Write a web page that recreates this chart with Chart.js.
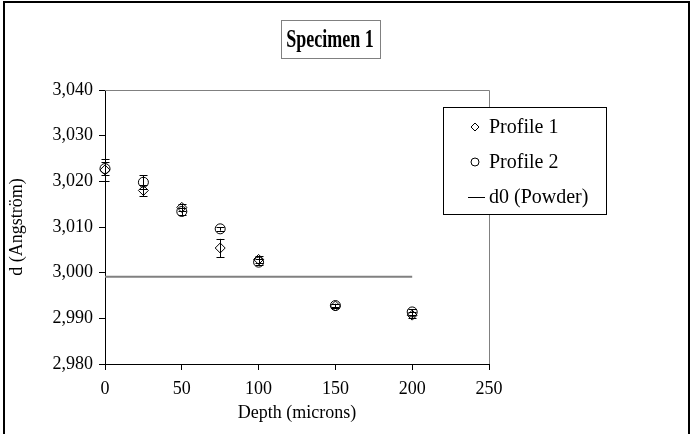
<!DOCTYPE html>
<html>
<head>
<meta charset="utf-8">
<script src="https://cdn.jsdelivr.net/npm/chart.js@4/dist/chart.umd.min.js"></script>
<style>
  html, body { margin: 0; padding: 0; background: #fff; }
  #wrap { width: 693px; height: 434px; }
</style>
</head>
<body>
<div id="wrap"><canvas id="chart" width="693" height="434"></canvas></div>
<script>
const depths = [0, 25, 50, 75, 100, 150, 200];
const profile1 = [3.0225, 3.0180, 3.0143, 3.0054, 3.0029, 2.9927, 2.9907];
const profile1Err = [0.0025, 0.0012, 0.0008, 0.0020, 0.0008, 0.0004, 0.0006];
const profile2 = [3.0228, 3.0198, 3.0134, 3.0096, 3.0023, 2.9928, 2.9914];
const profile2Err = [0.0015, 0.0015, 0.0008, 0.0004, 0.0006, 0.0004, 0.0006];
const powderDepths = [0, 200];
const powderD = [2.9991, 2.9991];
const seriesLabels = ["Profile 1", "Profile 2", "d0 (Powder)"];
const titleText = "Specimen 1";

const serif = "'Liberation Serif', 'Times New Roman', serif";

function toPoints(xs, ys) {
  return xs.map((x, i) => ({ x: x, y: ys[i] }));
}

// outer frame, plot frame, title box, legend box
const decorations = {
  id: "decorations",
  beforeDraw(chart) {
    const ctx = chart.ctx;
    ctx.save();
    ctx.fillStyle = "#fff";
    ctx.fillRect(0, 0, chart.width, chart.height);
    ctx.strokeStyle = "#000";
    ctx.lineWidth = 2;
    ctx.beginPath();
    ctx.moveTo(4, 434);
    ctx.lineTo(4, 2);
    ctx.lineTo(689, 2);
    ctx.lineTo(689, 434);
    ctx.stroke();
    ctx.restore();
  },
  beforeDatasetsDraw(chart) {
    const ctx = chart.ctx;
    const a = chart.chartArea;
    ctx.save();
    ctx.strokeStyle = "#808080";
    ctx.lineWidth = 1;
    ctx.beginPath();
    ctx.moveTo(a.left, a.top + 0.5);
    ctx.lineTo(a.right + 0.5, a.top + 0.5);
    ctx.lineTo(a.right + 0.5, a.bottom);
    ctx.stroke();
    ctx.restore();
  },
  afterDraw(chart) {
    const ctx = chart.ctx;
    ctx.save();
    // title box
    const cx = 330;
    ctx.font = "bold 18px " + serif;
    const tw = ctx.measureText(titleText).width;
    const bw = Math.round(tw + 12);
    const bx = Math.round(cx - bw / 2);
    ctx.fillStyle = "#fff";
    ctx.fillRect(bx, 20, bw, 38);
    ctx.strokeStyle = "#808080";
    ctx.lineWidth = 1;
    ctx.strokeRect(bx + 0.5, 20.5, bw, 38);
    ctx.fillStyle = "#000";
    ctx.textAlign = "center";
    ctx.textBaseline = "middle";
    ctx.save();
    ctx.translate(cx, 40);
    ctx.scale(1, 1.4);
    ctx.fillText(titleText, 0, 0);
    ctx.restore();

    // legend box
    const lx = 443, ly = 107, lw = 163, lh = 107;
    ctx.fillStyle = "#fff";
    ctx.fillRect(lx, ly, lw, lh);
    ctx.strokeStyle = "#000";
    ctx.lineWidth = 1;
    ctx.strokeRect(lx + 0.5, ly + 0.5, lw, lh);
    ctx.font = "20px " + serif;
    ctx.textAlign = "left";
    ctx.fillStyle = "#000";
    const rows = [127, 162, 197];
    const mx = 475, tx = 489;
    ctx.beginPath();
    ctx.moveTo(mx, rows[0] - 4);
    ctx.lineTo(mx + 4, rows[0]);
    ctx.lineTo(mx, rows[0] + 4);
    ctx.lineTo(mx - 4, rows[0]);
    ctx.closePath();
    ctx.stroke();
    ctx.beginPath();
    ctx.arc(mx, rows[1], 4, 0, Math.PI * 2);
    ctx.stroke();
    ctx.beginPath();
    ctx.moveTo(468, rows[2] + 0.5);
    ctx.lineTo(485, rows[2] + 0.5);
    ctx.stroke();
    rows.forEach((ry, i) => ctx.fillText(seriesLabels[i], tx, ry + 1));
    ctx.restore();
  }
};

// vertical error bars from the value arrays
const errorBars = {
  id: "errorBars",
  afterDatasetsDraw(chart) {
    const ctx = chart.ctx;
    const xs = chart.scales.x, ys = chart.scales.y;
    const sets = [[profile1, profile1Err], [profile2, profile2Err]];
    ctx.save();
    ctx.strokeStyle = "#000";
    ctx.lineWidth = 1;
    sets.forEach(([vals, errs]) => {
      vals.forEach((v, i) => {
        const px = Math.round(xs.getPixelForValue(depths[i])) + 0.5;
        const top = ys.getPixelForValue(v + errs[i]);
        const bot = ys.getPixelForValue(v - errs[i]);
        ctx.beginPath();
        ctx.moveTo(px, top);
        ctx.lineTo(px, bot);
        ctx.moveTo(px - 4, Math.round(top) + 0.5);
        ctx.lineTo(px + 4, Math.round(top) + 0.5);
        ctx.moveTo(px - 4, Math.round(bot) + 0.5);
        ctx.lineTo(px + 4, Math.round(bot) + 0.5);
        ctx.stroke();
      });
    });
    ctx.restore();
  }
};

new Chart(document.getElementById("chart"), {
  type: "scatter",
  data: {
    datasets: [
      {
        label: seriesLabels[2],
        data: toPoints(powderDepths, powderD),
        showLine: true,
        borderColor: "#808080",
        borderWidth: 2,
        pointRadius: 0,
        order: 3
      },
      {
        label: seriesLabels[0],
        data: toPoints(depths, profile1),
        pointStyle: "rectRot",
        pointRadius: 5,
        backgroundColor: "#fff",
        borderColor: "#000",
        borderWidth: 1,
        clip: false,
        order: 2
      },
      {
        label: seriesLabels[1],
        data: toPoints(depths, profile2),
        pointStyle: "circle",
        pointRadius: 5,
        backgroundColor: "rgba(255,255,255,0)",
        borderColor: "#000",
        borderWidth: 1,
        clip: false,
        order: 1
      }
    ]
  },
  options: {
    responsive: false,
    animation: false,
    layout: { padding: { left: 0, top: 90, right: 204, bottom: 0 } },
    plugins: {
      legend: { display: false },
      title: { display: false },
      tooltip: { enabled: false }
    },
    scales: {
      x: {
        type: "linear",
        min: 0,
        max: 250,
        afterFit: (s) => { s.height = 70; },
        ticks: { stepSize: 50, color: "#000", font: { family: serif, size: 18 }, padding: 8 },
        grid: { drawOnChartArea: false, drawTicks: true, tickLength: 6, color: "#000" },
        border: { display: true, color: "#000", width: 1 },
        title: { display: true, text: "Depth (microns)", color: "#000", font: { family: serif, size: 18 }, padding: { top: 0, bottom: 10 } }
      },
      y: {
        type: "linear",
        min: 2.98,
        max: 3.04,
        afterFit: (s) => { s.width = 105; },
        ticks: {
          stepSize: 0.01,
          color: "#000",
          font: { family: serif, size: 18 },
          padding: 6,
          callback: (v) => v.toFixed(3).replace(".", ",")
        },
        grid: { drawOnChartArea: false, drawTicks: true, tickLength: 6, color: "#000" },
        border: { display: true, color: "#000", width: 1 },
        title: { display: true, text: "d (Angström)", color: "#000", font: { family: serif, size: 18 }, padding: { top: 6, bottom: 0 } }
      }
    }
  },
  plugins: [decorations, errorBars]
});
</script>
</body>
</html>
